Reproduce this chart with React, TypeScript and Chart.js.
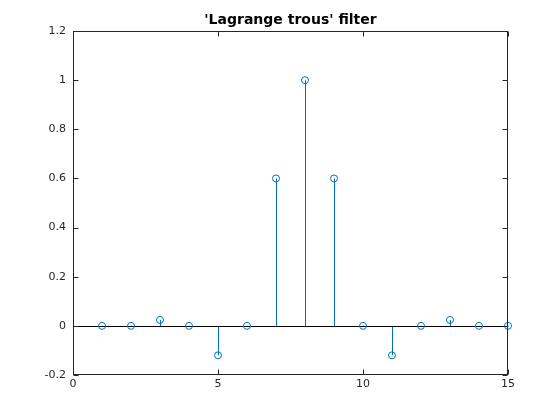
import React, { useEffect, useRef } from "react";
import { Chart, registerables } from "chart.js";

Chart.register(...registerables);

const titleText = "'Lagrange trous' filter";
const sampleIndex = [1, 2, 3, 4, 5, 6, 7, 8, 9, 10, 11, 12, 13, 14, 15];
const filterValues = [0, 0, 0.024, 0, -0.12, 0, 0.6, 1, 0.6, 0, -0.12, 0, 0.024, 0, 0];
const xTickValues = [0, 5, 10, 15];
const yTickValues = [-0.2, 0, 0.2, 0.4, 0.6, 0.8, 1, 1.2];

const BLUE = "#0072BD";
const AXIS = "#262626";
const FONT = "'DejaVu Sans', sans-serif";

const stemPlugin = {
  id: "stemPlugin",
  beforeDatasetsDraw(chart: any) {
    const { ctx, chartArea, scales } = chart;
    const xs = scales.x;
    const ys = scales.y;
    const y0 = Math.round(ys.getPixelForValue(0)) + 0.5;
    ctx.save();
    ctx.strokeStyle = BLUE;
    ctx.lineWidth = 1;
    sampleIndex.forEach((xv, i) => {
      const px = Math.round(xs.getPixelForValue(xv)) + 0.5;
      const py = ys.getPixelForValue(filterValues[i]);
      ctx.beginPath();
      ctx.moveTo(px, y0);
      ctx.lineTo(px, py);
      ctx.stroke();
    });
    ctx.strokeStyle = "#000000";
    ctx.beginPath();
    ctx.moveTo(chartArea.left, y0);
    ctx.lineTo(chartArea.right, y0);
    ctx.stroke();
    ctx.restore();
  },
  afterDraw(chart: any) {
    const { ctx, chartArea, scales } = chart;
    const xs = scales.x;
    const ys = scales.y;
    const l = Math.round(chartArea.left) + 0.5;
    const r = Math.round(chartArea.right) - 0.5;
    const t = Math.round(chartArea.top) + 0.5;
    const b = Math.round(chartArea.bottom) - 0.5;
    ctx.save();
    ctx.strokeStyle = AXIS;
    ctx.lineWidth = 1;
    ctx.strokeRect(l, t, r - l, b - t);
    const tl = 5;
    ctx.beginPath();
    xTickValues.forEach((v) => {
      const px = Math.round(xs.getPixelForValue(v)) + 0.5;
      ctx.moveTo(px, b);
      ctx.lineTo(px, b - tl);
      ctx.moveTo(px, t);
      ctx.lineTo(px, t + tl);
    });
    yTickValues.forEach((v) => {
      const py = Math.round(ys.getPixelForValue(v)) + 0.5;
      ctx.moveTo(l, py);
      ctx.lineTo(l + tl, py);
      ctx.moveTo(r, py);
      ctx.lineTo(r - tl, py);
    });
    ctx.stroke();
    ctx.fillStyle = "#000000";
    ctx.font = "bold 14px " + FONT;
    ctx.textAlign = "center";
    ctx.textBaseline = "alphabetic";
    ctx.fillText(titleText, (chartArea.left + chartArea.right) / 2, 24);
    ctx.restore();
  },
};

export default function App() {
  const ref = useRef<HTMLCanvasElement | null>(null);
  useEffect(() => {
    if (!ref.current) return;
    const chart = new Chart(ref.current, {
      type: "scatter",
      data: {
        datasets: [
          {
            data: sampleIndex.map((x, i) => ({ x, y: filterValues[i] })),
            borderColor: BLUE,
            backgroundColor: "rgba(0,0,0,0)",
            pointStyle: "circle",
            pointRadius: 3.5,
            pointBorderWidth: 1,
            pointHoverRadius: 3.5,
            clip: false,
          } as any,
        ],
      },
      options: {
        animation: false,
        responsive: false,
        events: [],
        layout: { padding: { left: 0, top: 31, right: 52, bottom: 0 } },
        plugins: {
          legend: { display: false },
          title: { display: false },
          tooltip: { enabled: false },
        },
        scales: {
          x: {
            type: "linear",
            min: 0,
            max: 15,
            grid: { display: false, drawTicks: false },
            border: { display: false },
            afterBuildTicks: (s: any) => {
              s.ticks = xTickValues.map((v) => ({ value: v }));
            },
            afterFit: (s: any) => {
              s.height = 45;
            },
            ticks: {
              padding: 3,
              color: AXIS,
              font: { family: FONT, size: 11 },
              maxRotation: 0,
              callback: (v: any) => String(v),
            },
          },
          y: {
            type: "linear",
            min: -0.2,
            max: 1.2,
            grid: { display: false, drawTicks: false },
            border: { display: false },
            afterBuildTicks: (s: any) => {
              s.ticks = yTickValues.map((v) => ({ value: v }));
            },
            afterFit: (s: any) => {
              s.width = 73;
            },
            ticks: {
              padding: 7,
              color: AXIS,
              font: { family: FONT, size: 11 },
              callback: (v: any) => String(v),
            },
          },
        },
      },
      plugins: [stemPlugin],
    });
    return () => chart.destroy();
  }, []);
  return (
    <div style={{ position: "fixed", left: 0, top: 0, width: 560, height: 420, background: "#fff" }}>
      <canvas ref={ref} width={560} height={420} />
    </div>
  );
}
